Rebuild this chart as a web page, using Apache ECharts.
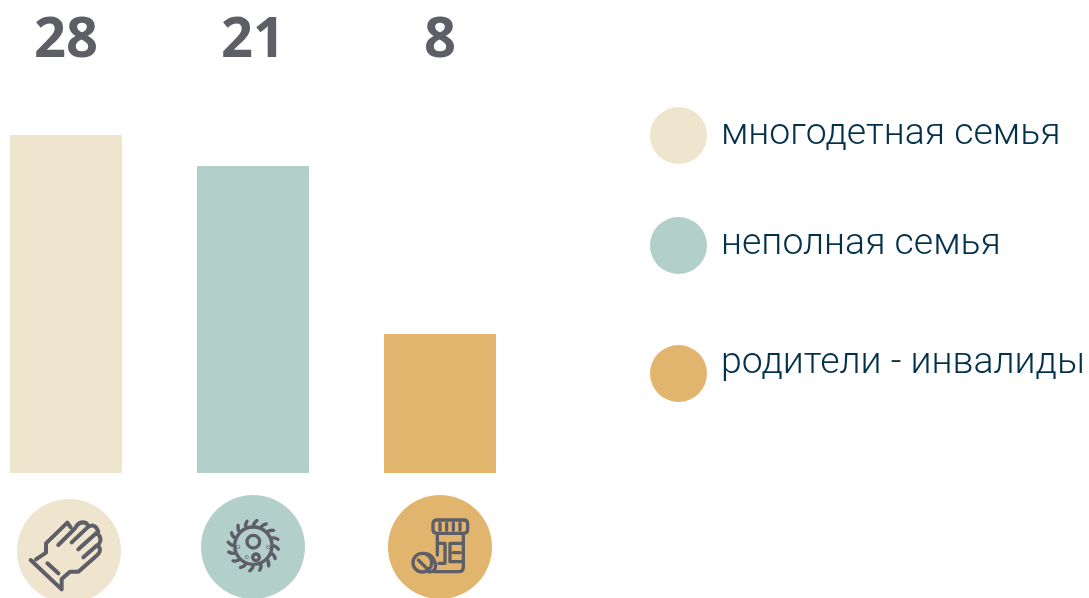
<!DOCTYPE html>
<html><head><meta charset="utf-8">
<style>html,body{margin:0;padding:0;background:#fff}#c{width:1089px;height:598px}</style>
<script src="https://cdn.jsdelivr.net/npm/echarts@6/dist/echarts.min.js"></script>
</head><body><div id="c"></div>
<script>
const categories = ['многодетная семья', 'неполная семья', 'родители - инвалиды'];
const valueLabels = ['28', '21', '8'];
const barLengths = [33.8, 30.7, 13.9];
const colors = ['#efe4ce', '#b3cfca', '#e2b56e'];

const INK = '#5e5e66';
const handPath = 'M32 150L125 238M48 148L78 128L78 100L142 38L152 52M115 105L165 55Q178 30 200 40L205 50M155 97L205 50Q225 38 235 65M175 118L230 68Q248 85 238 100M190 142L232 105Q248 120 232 135L175 185L150 185L125 207L125 238M82 160L115 190';
function microbePath() {
  const cx = 115, cy = 107, r1 = 56, r2 = 76;
  const arc = (x, y, r) => `M${x - r} ${y}A${r} ${r} 0 1 1 ${x + r} ${y}A${r} ${r} 0 1 1 ${x - r} ${y}Z`;
  let d = arc(cx, cy, r1) + arc(115, 95, 19) + arc(123, 142, 10);
  for (const p of [[70, 110], [95, 142], [160, 112]]) d += arc(p[0], p[1], 1);
  for (let i = 0; i < 16; i++) {
    const a = i * Math.PI / 8;
    const b = a + 0.14;
    d += `M${(cx + r1 * Math.cos(a)).toFixed(1)} ${(cy + r1 * Math.sin(a)).toFixed(1)}`;
    d += `Q${(cx + 68 * Math.cos(a)).toFixed(1)} ${(cy + 68 * Math.sin(a)).toFixed(1)} ${(cx + r2 * Math.cos(b)).toFixed(1)} ${(cy + r2 * Math.sin(b)).toFixed(1)}`;
  }
  return d;
}
const bottlePath = 'M96 30L176 30Q188 30 188 42L188 58Q188 70 176 70L96 70Q84 70 84 58L84 42Q84 30 96 30ZM105 40L105 60M125 40L125 60M145 40L145 60M165 40L165 60M97 70L97 135M175 70L175 170Q175 185 160 185L88 185M102 100L120 100L120 160L102 160M175 100L135 100L135 155L175 155M145 128L165 128M52 130A28 28 0 1 0 52 186A28 28 0 1 0 52 130ZM40 150L72 182M52 130Q84 128 92 165Q92 186 72 186';

function disc(cx, cy, fill) {
  return { type: 'circle', shape: { cx, cy, r: 52 }, style: { fill }, silent: true };
}
function icon(d, x, y, w) {
  return { type: 'path', x, y, scaleX: 1 / 3, scaleY: 1 / 3, shape: { pathData: d },
    style: { fill: 'transparent', stroke: INK, lineWidth: w, lineCap: 'round', lineJoin: 'round' }, silent: true };
}

const legendTops = [107, 217, 345];
const legendLines = [2, 2, 19];
const chart = echarts.init(document.getElementById('c'), null, { renderer: 'canvas' });
chart.setOption({
  animation: false,
  backgroundColor: '#fff',
  grid: { left: -27.5, width: 561, top: 73, height: 400, outerBoundsMode: 'none' },
  xAxis: {
    type: 'category', data: categories, position: 'top',
    axisLine: { show: false }, axisTick: { show: false },
    axisLabel: { interval: 0, margin: 4, color: INK, fontFamily: '"Open Sans"', fontWeight: 'bold', fontSize: 56,
      formatter: (v, i) => valueLabels[i] }
  },
  yAxis: { type: 'value', min: 0, max: 40, show: false },
  legend: categories.map((name, i) => ({
    data: [{ name, icon: 'circle' }],
    left: 650, top: legendTops[i], padding: 0, itemWidth: 57, itemHeight: 57, selectedMode: false,
    formatter: n => n + '\n ',
    textStyle: { fontFamily: 'Roboto', fontWeight: 300, fontSize: 37.4, color: '#03304a',
      lineHeight: legendLines[i], padding: [0, 0, 0, 9] }
  })),
  series: categories.map((name, i) => ({
    type: 'bar', name, stack: 'all', barWidth: 112,
    itemStyle: { color: colors[i] },
    data: barLengths.map((v, j) => (j === i ? v : null))
  })).concat([{
    type: 'custom', name: 'icons', silent: true, clip: false, data: [0],
    renderItem: () => ({ type: 'group', children: [
      disc(69, 551, colors[0]), disc(253, 547, colors[1]), disc(440, 547, colors[2]),
      icon(handPath, 20, 510, 12), icon(microbePath(), 215, 510, 10), icon(bottlePath, 405, 510, 10)
    ] })
  }])
});
</script></body></html>
